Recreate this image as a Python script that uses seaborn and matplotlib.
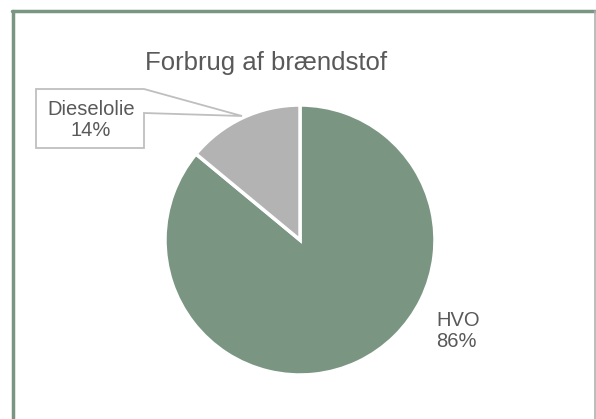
import matplotlib
matplotlib.use("Agg")
import matplotlib.pyplot as plt
from matplotlib.patches import Polygon
import seaborn as sns

# data
fuels = ["HVO", "Dieselolie"]
shares = [86, 14]
title = "Forbrug af brændstof"

W, H = 596, 419
GREEN = "#7a9683"
GREY = "#b3b3b3"
TXT = "#595959"

sns.set_theme(style="white")
plt.rcParams["font.family"] = ["Liberation Sans", "DejaVu Sans"]

fig = plt.figure(figsize=(W / 100, H / 100), dpi=100)
fig.patch.set_facecolor("white")


def px(x, y):
    # pixel position (from top-left) -> figure fraction
    return x / W, 1 - y / H


# pie axes: centre ~(300, 240), radius ~135 px
cx, cy, r = 300, 240, 135
ax = fig.add_axes([(cx - r) / W, (H - cy - r) / H, 2 * r / W, 2 * r / H])
palette = sns.color_palette([GREEN, GREY])
wedges, _ = ax.pie(
    shares, colors=palette, startangle=90, counterclock=False,
    wedgeprops=dict(edgecolor="white", linewidth=2.5, clip_on=False),
)
ax.set_xlim(-1, 1)
ax.set_ylim(-1, 1)
ax.set_aspect("equal")
ax.axis("off")

# chart frame (left/top green, right grey)
fig.add_artist(plt.Line2D(*zip(px(13, 11), px(13, H + 2)), color=GREEN, lw=2.5))
fig.add_artist(plt.Line2D(*zip(px(12, 11), px(595, 11)), color=GREEN, lw=2.5))
fig.add_artist(plt.Line2D(*zip(px(595, 11), px(595, H + 2)), color="#b0b0b0", lw=1.2))

# title
fig.text(*px(266, 63), title, ha="center", va="center", fontsize=18.5, color=TXT)

# callout for Dieselolie
callout = Polygon(
    [px(36, 89), px(144, 89), px(242, 116), px(144, 113), px(144, 148), px(36, 148)],
    closed=True, transform=fig.transFigure, facecolor="white",
    edgecolor="#bfbfbf", lw=1.3,
)
fig.add_artist(callout)
fig.text(*px(91, 120), f"{fuels[1]}\n{shares[1]}%", ha="center", va="center",
         fontsize=14.5, color=TXT, linespacing=1.1)

# HVO label
fig.text(*px(436, 331), f"{fuels[0]}\n{shares[0]}%", ha="left", va="center",
         fontsize=14.5, color=TXT, linespacing=1.1)

fig.savefig("out.png", dpi=100)
